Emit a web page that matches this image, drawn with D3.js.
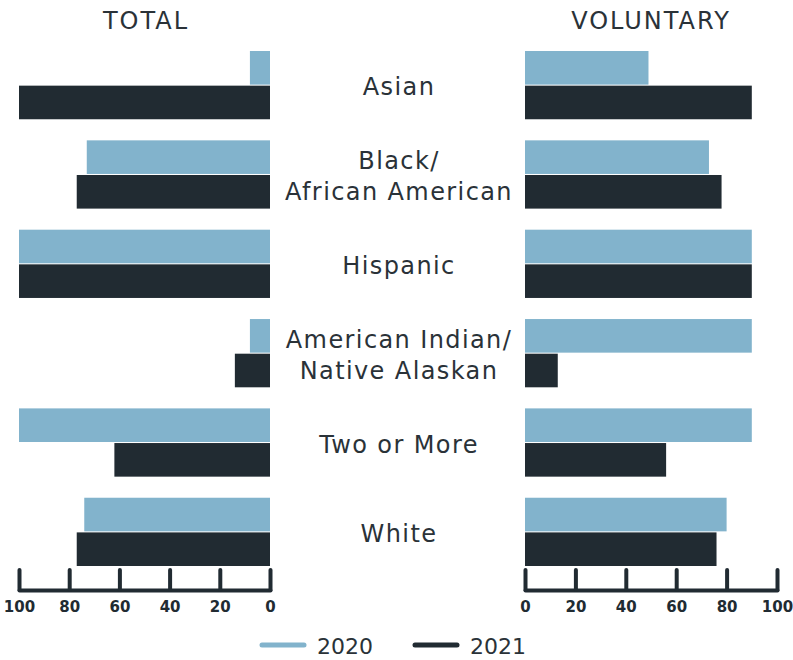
<!DOCTYPE html>
<html>
<head>
<meta charset="utf-8">
<script src="https://cdn.jsdelivr.net/npm/d3@7"></script>
<style>
  body { margin: 0; background: #fff; }
  text { font-family: "DejaVu Sans", sans-serif; fill: #2a3238; }
  .axis path, .axis line { stroke: #212b32; stroke-width: 4; stroke-linecap: round; }
  .axis text { font-size: 15px; font-weight: bold; fill: #212b32; }
</style>
</head>
<body>
<div class="chart"></div>
<script>
var svgWidth = 793;
var svgHeight = 660;

// data
var categories = ["Asian", "Black/\nAfrican American", "Hispanic", "American Indian/\nNative Alaskan", "Two or More", "White"];
var years = ["2020", "2021"];
var total2020 = [8, 73, 100, 8, 100, 74];
var total2021 = [100, 77, 100, 14, 62, 77];
var voluntary2020 = [49, 73, 90, 90, 90, 80];
var voluntary2021 = [90, 78, 90, 13, 56, 76];
var tickValues = [0, 20, 40, 60, 80, 100];

var colors = { "2020": "#82b3cc", "2021": "#212b32" };

var svg = d3.select(".chart")
  .append("svg")
  .attr("width", svgWidth)
  .attr("height", svgHeight);

// scales
var yScale = d3.scaleBand()
  .domain(categories)
  .range([51, 566])
  .paddingInner(0.236)
  .paddingOuter(0);

var yearScale = d3.scaleBand()
  .domain(years)
  .range([0, yScale.bandwidth()])
  .paddingInner(0.03);

var xLeft = d3.scaleLinear().domain([0, 100]).range([270, 19]);
var xRight = d3.scaleLinear().domain([0, 100]).range([525, 777]);

function rows(v20, v21) {
  var out = [];
  categories.forEach(function(c, i) {
    out.push({ cat: c, year: "2020", value: v20[i] });
    out.push({ cat: c, year: "2021", value: v21[i] });
  });
  return out;
}

// left (TOTAL) bars grow leftward
svg.append("g").selectAll("rect")
  .data(rows(total2020, total2021))
  .enter()
  .append("rect")
  .attr("x", d => xLeft(d.value))
  .attr("y", d => yScale(d.cat) + yearScale(d.year))
  .attr("width", d => xLeft(0) - xLeft(d.value))
  .attr("height", yearScale.bandwidth())
  .attr("fill", d => colors[d.year]);

// right (VOLUNTARY) bars
svg.append("g").selectAll("rect")
  .data(rows(voluntary2020, voluntary2021))
  .enter()
  .append("rect")
  .attr("x", xRight(0))
  .attr("y", d => yScale(d.cat) + yearScale(d.year))
  .attr("width", d => xRight(d.value) - xRight(0))
  .attr("height", yearScale.bandwidth())
  .attr("fill", d => colors[d.year]);

// axes
var axisY = 590;
svg.append("g")
  .attr("class", "axis")
  .attr("transform", `translate(0, ${axisY})`)
  .call(d3.axisBottom(xLeft).tickValues(tickValues).tickSizeInner(-20).tickSizeOuter(0).tickPadding(11));

svg.append("g")
  .attr("class", "axis")
  .attr("transform", `translate(0, ${axisY})`)
  .call(d3.axisBottom(xRight).tickValues(tickValues).tickSizeInner(-20).tickSizeOuter(0).tickPadding(11));

// panel titles
svg.append("text")
  .attr("x", 146).attr("y", 29)
  .attr("text-anchor", "middle")
  .style("font-size", "24px")
  .style("letter-spacing", "2px")
  .text("TOTAL");

svg.append("text")
  .attr("x", 651).attr("y", 29)
  .attr("text-anchor", "middle")
  .style("font-size", "24px")
  .style("letter-spacing", "2px")
  .text("VOLUNTARY");

// category labels in the middle
var labels = svg.append("g").selectAll("text")
  .data(categories)
  .enter()
  .append("text")
  .attr("text-anchor", "middle")
  .style("font-size", "24px")
  .style("letter-spacing", "1.4px")
  .attr("y", d => yScale(d) + yScale.bandwidth() / 2 + 10);

labels.each(function(d) {
  var lines = d.split("\n");
  var t = d3.select(this);
  lines.forEach(function(line, i) {
    t.append("tspan")
      .attr("x", 399)
      .attr("dy", i === 0 ? (-(lines.length - 1) * 31 / 2) : 31)
      .text(line);
  });
});

// legend
var legend = svg.append("g");
var legendX = [262, 415];
years.forEach(function(y, i) {
  legend.append("line")
    .attr("x1", legendX[i]).attr("x2", legendX[i] + 42)
    .attr("y1", 645).attr("y2", 645)
    .attr("stroke", colors[y])
    .attr("stroke-width", 5)
    .attr("stroke-linecap", "round");
  legend.append("text")
    .attr("x", legendX[i] + 55).attr("y", 654)
    .style("font-size", "22px")
    .text(y);
});
</script>
</body>
</html>
